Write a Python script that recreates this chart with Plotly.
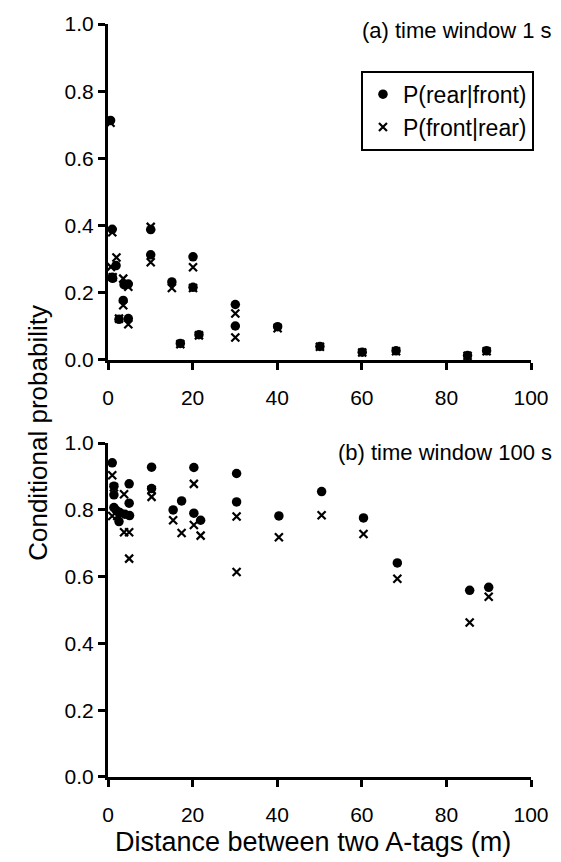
import plotly.graph_objects as go

# ---------------- data ----------------
x_ticks = [0, 20, 40, 60, 80, 100]
y_ticks = [0.0, 0.2, 0.4, 0.6, 0.8, 1.0]
y_tick_text = ["0.0", "0.2", "0.4", "0.6", "0.8", "1.0"]

# (a) time window 1 s
a_dist_rf = [0.6, 1.0, 1.9, 1.0, 1.1, 3.8, 4.8, 3.6, 2.6, 4.8, 10.1, 10.1, 15.1, 17.1,
             20.1, 20.1, 21.5, 30.1, 30.1, 40.1, 50.1, 60.1, 68.1, 85.0, 89.5]
a_p_rf = [0.713, 0.389, 0.281, 0.246, 0.243, 0.224, 0.226, 0.177, 0.121, 0.123, 0.388, 0.313,
          0.232, 0.049, 0.307, 0.216, 0.075, 0.165, 0.101, 0.099, 0.040, 0.023, 0.027, 0.013, 0.027]
a_dist_fr = [0.6, 1.0, 2.0, 0.7, 1.1, 3.6, 4.8, 3.6, 2.6, 4.8, 10.1, 10.1, 15.1, 17.1,
             20.1, 20.1, 21.5, 30.1, 30.1, 40.1, 50.1, 60.1, 68.1, 85.0, 89.5]
a_p_fr = [0.706, 0.380, 0.305, 0.277, 0.246, 0.242, 0.218, 0.163, 0.123, 0.106, 0.396, 0.291,
          0.214, 0.047, 0.276, 0.214, 0.073, 0.138, 0.067, 0.094, 0.039, 0.022, 0.026, 0.012, 0.026]

# (b) time window 100 s
b_dist_rf = [1.0, 1.4, 1.4, 1.4, 2.0, 2.8, 4.0, 5.1, 2.6, 5.0, 5.0, 10.3, 10.3, 15.4, 17.4,
             20.3, 20.3, 21.9, 30.4, 30.4, 40.4, 50.5, 60.4, 68.4, 85.5, 90.0]
b_p_rf = [0.941, 0.871, 0.845, 0.807, 0.798, 0.792, 0.787, 0.783, 0.765, 0.878, 0.820, 0.928,
          0.864, 0.800, 0.827, 0.927, 0.790, 0.769, 0.909, 0.824, 0.782, 0.855, 0.776, 0.641,
          0.559, 0.568]
b_dist_fr = [1.0, 1.4, 1.0, 2.2, 3.8, 3.8, 5.0, 5.0, 10.3, 10.3, 15.4, 17.4, 20.3, 20.3, 21.9,
             30.4, 30.4, 40.4, 50.5, 60.4, 68.4, 85.5, 90.0]
b_p_fr = [0.904, 0.868, 0.782, 0.782, 0.847, 0.733, 0.733, 0.654, 0.839, 0.860, 0.769, 0.731,
          0.878, 0.755, 0.723, 0.780, 0.614, 0.718, 0.784, 0.728, 0.594, 0.463, 0.540]

series_names = ["P(rear|front)", "P(front|rear)"]

FONT = "Liberation Sans, Arial, sans-serif"

fig = go.Figure()

dot_marker = dict(symbol="circle", size=9.5, color="black")
x_marker = dict(symbol="x-thin", size=8, color="black", line=dict(width=2.2, color="black"))

fig.add_trace(go.Scatter(x=a_dist_rf, y=a_p_rf, mode="markers", marker=dot_marker,
                         name=series_names[0], xaxis="x", yaxis="y", cliponaxis=False))
fig.add_trace(go.Scatter(x=a_dist_fr, y=a_p_fr, mode="markers", marker=x_marker,
                         name=series_names[1], xaxis="x", yaxis="y", cliponaxis=False))
fig.add_trace(go.Scatter(x=b_dist_rf, y=b_p_rf, mode="markers", marker=dot_marker,
                         name=series_names[0], xaxis="x2", yaxis="y2", showlegend=False,
                         cliponaxis=False))
fig.add_trace(go.Scatter(x=b_dist_fr, y=b_p_fr, mode="markers", marker=x_marker,
                         name=series_names[1], xaxis="x2", yaxis="y2", showlegend=False,
                         cliponaxis=False))

axis_common = dict(showline=True, linecolor="black", linewidth=3, ticks="outside",
                   ticklen=7, tickwidth=3, tickcolor="black", showgrid=False, zeroline=False,
                   tickfont=dict(family=FONT, size=21, color="black"))

fig.update_layout(
    width=561, height=862,
    margin=dict(l=108, r=26, t=17, b=85),
    paper_bgcolor="white", plot_bgcolor="white",
    font=dict(family=FONT, color="black"),
    xaxis=dict(domain=[0, 1], anchor="y", range=[0, 100], tickvals=x_ticks,
               ticklabelstandoff=10, **axis_common),
    yaxis=dict(domain=[0.5539, 1.0], anchor="x", range=[0, 1], tickvals=y_ticks,
               ticktext=y_tick_text, ticklabelstandoff=0, **axis_common),
    xaxis2=dict(domain=[0, 1], anchor="y2", range=[0, 100], tickvals=x_ticks,
                ticklabelstandoff=10, **axis_common),
    yaxis2=dict(domain=[0, 0.4434], anchor="x2", range=[0, 1], tickvals=y_ticks,
                ticktext=y_tick_text, ticklabelstandoff=0, **axis_common),
    legend=dict(x=0.598, y=0.938, xanchor="left", yanchor="top",
                bordercolor="black", borderwidth=2, bgcolor="white",
                font=dict(family=FONT, size=23, color="black"),
                itemwidth=30, tracegroupgap=0),
    annotations=[
        dict(text="(a) time window 1 s", xref="paper", yref="paper", x=1.055, y=0.991,
             xanchor="right", yanchor="middle", showarrow=False,
             font=dict(family=FONT, size=22, color="black")),
        dict(text="(b) time window 100 s", xref="paper", yref="paper", x=1.055, y=0.4303,
             xanchor="right", yanchor="middle", showarrow=False,
             font=dict(family=FONT, size=22, color="black")),
        dict(text="Conditional probability", xref="paper", yref="paper", x=-0.164, y=0.4566,
             xanchor="center", yanchor="middle", textangle=-90, showarrow=False,
             font=dict(family=FONT, size=26, color="black")),
        dict(text="Distance between two A-tags (m)", xref="paper", yref="paper", x=0.485,
             y=-0.0868, xanchor="center", yanchor="middle", showarrow=False,
             font=dict(family=FONT, size=27, color="black")),
    ],
)

fig.write_html("out.html")
